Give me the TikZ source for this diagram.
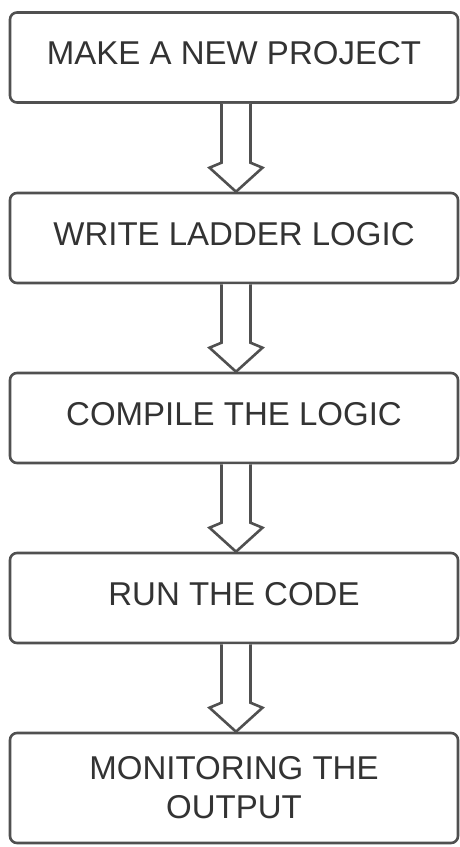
\documentclass[tikz,border=0pt]{standalone}
\usepackage{fontspec}
\setmainfont{Liberation Sans}
\usetikzlibrary{calc}
\definecolor{edgegray}{HTML}{505050}
\definecolor{txtgray}{HTML}{333333}
\tikzset{
  stepbox/.style={draw=edgegray, line width=2.6pt, rounded corners=7pt, fill=white,
    minimum width=448pt, text=txtgray, align=center,
    font=\fontsize{33pt}{39pt}\selectfont, inner sep=0pt},
  onebox/.style={stepbox, minimum height=90pt, text height=24pt, text depth=10pt},
  flowarrow/.style={draw=edgegray, line width=2.6pt, line join=miter, fill=white}
}
\newcommand\flowconn[2]{%
  \draw[flowarrow]
    ([xshift=-12.5pt]#1.south) -- ([xshift=-12.5pt,yshift=29pt]#2.north)
    -- ([xshift=-24.5pt,yshift=24pt]#2.north) -- ([xshift=2pt]#2.north)
    -- ([xshift=28.5pt,yshift=24pt]#2.north) -- ([xshift=16.5pt,yshift=29pt]#2.north)
    -- ([xshift=16.5pt]#1.south);}
\begin{document}
\begin{tikzpicture}[x=1pt,y=1pt]
  \useasboundingbox (0,0) rectangle (459,-847);
  \node[onebox] (s1) at (234,-57.5) {MAKE A NEW PROJECT};
  \node[onebox] (s2) at (234,-238) {WRITE LADDER LOGIC};
  \node[onebox] (s3) at (234,-418) {COMPILE THE LOGIC};
  \node[onebox] (s4) at (234,-598) {RUN THE CODE};
  \node[stepbox, minimum height=110pt] (s5) at (234,-788) {MONITORING THE\\OUTPUT};
  \flowconn{s1}{s2}
  \flowconn{s2}{s3}
  \flowconn{s3}{s4}
  \flowconn{s4}{s5}
\end{tikzpicture}
\end{document}
